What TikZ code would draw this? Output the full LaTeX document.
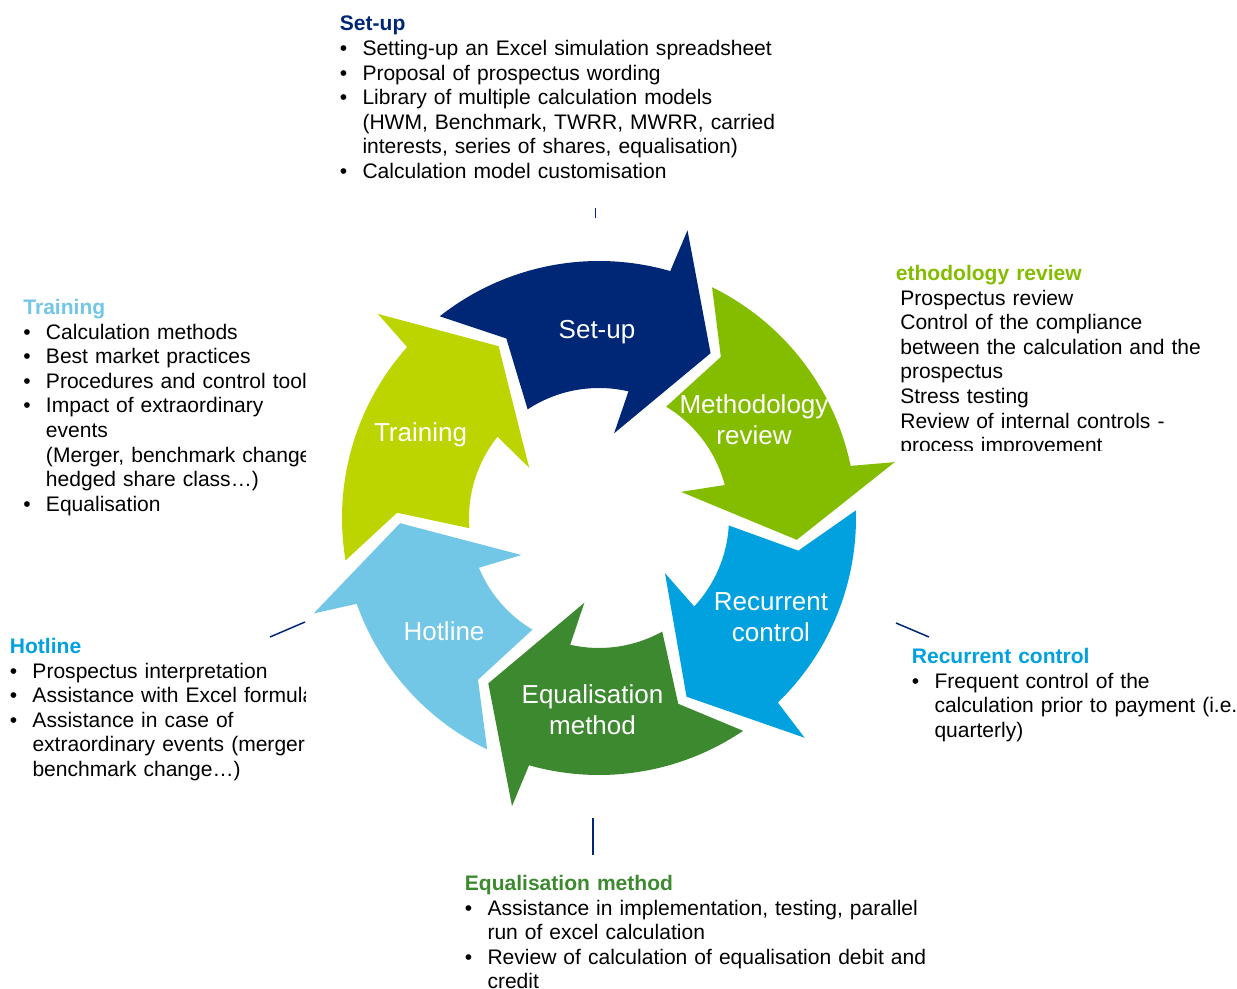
\documentclass[tikz,border=0pt]{standalone}
\usepackage{fontspec}
\setmainfont{Liberation Sans}
\usepackage{xcolor}

\definecolor{setupblue}{RGB}{0,39,118}
\definecolor{methgreen}{RGB}{132,189,0}
\definecolor{recblue}{RGB}{0,161,222}
\definecolor{eqgreen}{RGB}{61,137,48}
\definecolor{hotblue}{RGB}{114,198,230}
\definecolor{traingreen}{RGB}{188,212,0}

% bullet and hanging indent for the description lists
\newcommand{\bul}{\makebox[11.3pt][l]{\textbullet}}
\newcommand{\ind}{\hspace*{11.3pt}}
\newcommand{\heading}[2]{\textcolor{#1}{\textbf{#2}}}

% one curved arrow of the cycle: #1 colour, #2 tip angle of the arrow before, #3 own tip angle
\newcommand{\cyclearrow}[3]{%
  \fill[#1] (#2+8:257) arc[start angle=#2+8, end angle=#3+18, radius=257]
    -- (#3+17:301) -- (#3:199) -- (#3+24:86) -- (#3+21:130)
    arc[start angle=#3+21, end angle=#2+3, radius=130]
    -- (#2-3:202) -- cycle;}

\begin{document}
\begin{tikzpicture}[
  x=0.5pt, y=-0.5pt,
  infotext/.style={inner sep=0pt, anchor=base west, align=left, text width=240pt,
    font=\fontsize{10.52}{12.3}\selectfont},
  arrowlabel/.style={inner sep=0pt, anchor=base, align=center, text width=90pt, text=white,
    font=\fontsize{13}{15.5}\selectfont},
  leader/.style={draw=setupblue, line width=0.75pt}
]
  \useasboundingbox (0,0) rectangle (1237,989);

  % the cycle of six arrows
  \begin{scope}[shift={(599,518)}, y=0.5pt]
    \foreach \col/\prev/\tip in {traingreen/181.5/120.3, setupblue/120.3/55.9,
        methgreen/55.9/-6.3, recblue/-6.3/-63.9, eqgreen/-63.9/-123.8, hotblue/-123.8/-178.5}
      {\cyclearrow{\col}{\prev}{\tip}}
  \end{scope}

  \node [arrowlabel] (setuplbl) at (597,339) {Set-up};
  \node [arrowlabel] (methlbl) at (754,413.5) {Methodology\\review};
  \node [arrowlabel] (reclbl) at (771,610.5) {Recurrent\\control};
  \node [arrowlabel] (eqlbl) at (592.5,703.5) {Equalisation\\method};
  \node [arrowlabel] (hotlbl) at (444,640) {Hotline};
  \node [arrowlabel] (trainlbl) at (420.5,441.5) {Training};

  % descriptions round the cycle
  \node [infotext] (setupinfo) at (339.5,31) {\heading{setupblue}{Set-up}\\
    \bul Setting-up an Excel simulation spreadsheet\\
    \bul Proposal of prospectus wording\\
    \bul Library of multiple calculation models\\
    \ind (HWM, Benchmark, TWRR, MWRR, carried\\
    \ind interests, series of shares, equalisation)\\
    \bul Calculation model customisation};

  \begin{scope}
    \clip (880,255) rectangle (1237,450.5);
    \node [infotext] (methinfo) at (895.5,280.5) {\heading{methgreen}{ethodology review}\\
      \hspace*{2.2pt}Prospectus review\\
      \hspace*{2.2pt}Control of the compliance\\
      \hspace*{2.2pt}between the calculation and the\\
      \hspace*{2.2pt}prospectus\\
      \hspace*{2.2pt}Stress testing\\
      \hspace*{2.2pt}Review of internal controls -\\
      \hspace*{2.2pt}process improvement};
  \end{scope}

  \begin{scope}
    \clip (0,285) rectangle (305.5,525);
    \node [infotext] (traininfo) at (23,314.5) {\heading{hotblue}{Training}\\
      \bul Calculation methods\\
      \bul Best market practices\\
      \bul Procedures and control tool\\
      \bul Impact of extraordinary\\
      \ind events\\
      \ind (Merger, benchmark change\\
      \ind hedged share class…)\\
      \bul Equalisation};
  \end{scope}

  \begin{scope}
    \clip (0,628) rectangle (305.5,795);
    \node [infotext] (hotinfo) at (9.5,653.5) {\heading{recblue}{Hotline}\\
      \bul Prospectus interpretation\\
      \bul Assistance with Excel formula\\
      \bul Assistance in case of\\
      \ind extraordinary events (merger\\
      \ind benchmark change…)};
  \end{scope}

  \node [infotext] (recinfo) at (911.5,663.5) {\heading{recblue}{Recurrent control}\\
    \bul Frequent control of the\\
    \ind calculation prior to payment (i.e.\\
    \ind quarterly)};

  \node [infotext] (eqinfo) at (464.5,890.5) {\heading{eqgreen}{Equalisation method}\\
    \bul Assistance in implementation, testing, parallel\\
    \ind run of excel calculation\\
    \bul Review of calculation of equalisation debit and\\
    \ind credit};

  % short leader lines
  \coordinate (setuplineA) at (595.5,208);
  \coordinate (setuplineB) at (595.5,218);
  \coordinate (eqlineA) at (593,818);
  \coordinate (eqlineB) at (593,855);
  \coordinate (hotlineA) at (270,637);
  \coordinate (hotlineB) at (305,622);
  \coordinate (reclineA) at (896,623);
  \coordinate (reclineB) at (929,637);
  \draw [leader] (setuplineA) -- (setuplineB);
  \draw [leader] (eqlineA) -- (eqlineB);
  \draw [leader] (hotlineA) -- (hotlineB);
  \draw [leader] (reclineA) -- (reclineB);
\end{tikzpicture}
\end{document}
